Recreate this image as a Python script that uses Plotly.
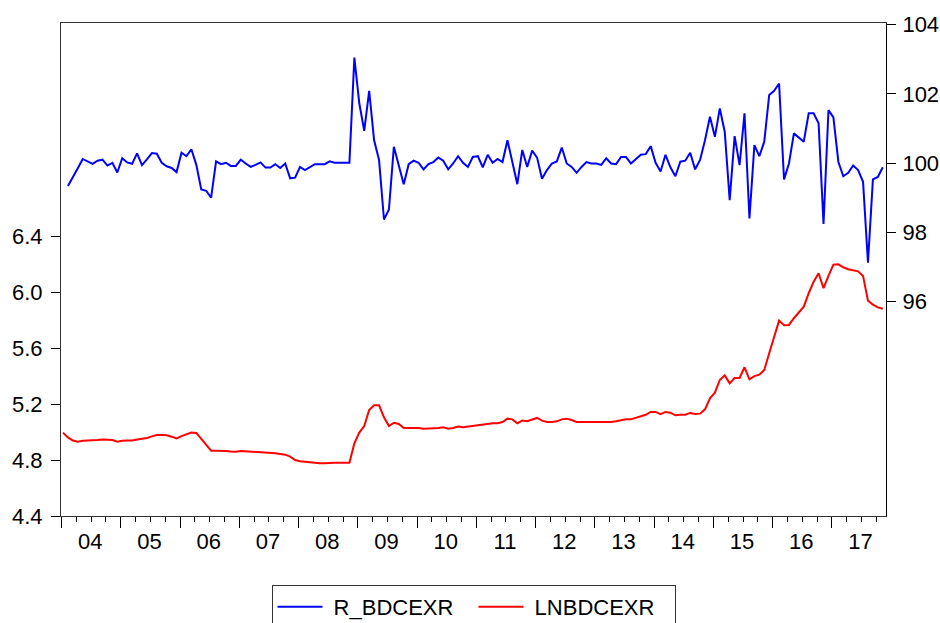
import plotly.graph_objects as go

# monthly observations 2004m1 .. 2017m11 (index 0..166)
months = list(range(167))

r_bdcexr = [None, 99.34, 99.58, 99.85, 100.12, 100.04, 99.98, 100.07, 100.10, 99.93,
            100.01, 99.73, 100.14, 100.02, 99.98, 100.28, 99.94, 100.11, 100.29, 100.27,
            100.01, 99.91, 99.86, 99.74, 100.30, 100.20, 100.40, 99.95, 99.24, 99.20,
            99.00, 100.05, 99.97, 100.01, 99.92, 99.92, 100.10, 99.99, 99.89, 99.95,
            100.02, 99.87, 99.87, 99.97, 99.86, 99.99, 99.56, 99.58, 99.89, 99.80,
            99.89, 99.97, 99.97, 99.97, 100.05, 100.01, 100.01, 100.01, 100.01, 103.05,
            101.73, 100.93, 102.09, 100.66, 100.09, 98.37, 98.66, 100.47, 99.95, 99.39,
            99.97, 100.07, 100.01, 99.82, 99.97, 100.03, 100.16, 100.07, 99.82, 99.99,
            100.20, 100.01, 99.89, 100.18, 100.20, 99.88, 100.24, 100.01, 100.12, 100.03,
            100.66, 99.99, 99.39, 100.38, 99.89, 100.36, 100.16, 99.55, 99.80, 99.99,
            100.05, 100.45, 99.99, 99.89, 99.72, 99.89, 100.03, 99.99, 99.99, 99.95,
            100.14, 99.99, 99.97, 100.18, 100.18, 99.99, 100.11, 100.24, 100.26, 100.49,
            100.01, 99.76, 100.24, 99.88, 99.62, 100.04, 100.07, 100.30, 99.82, 100.09,
            100.66, 101.34, 100.76, 101.58, 100.90, 98.93, 100.78, 99.94, 101.44, 98.40,
            100.52, 100.20, 100.62, 101.97, 102.09, 102.30, 99.53, 99.99, 100.86, 100.74,
            100.62, 101.44, 101.44, 101.15, 98.24, 101.53, 101.32, 100.04, 99.62, 99.72,
            99.93, 99.80, 99.46, 97.12, 99.53, 99.60, 99.88]

lnbdcexr = [4.997, 4.963, 4.940, 4.932, 4.939, 4.940, 4.940, 4.944, 4.948, 4.944,
            4.944, 4.932, 4.939, 4.940, 4.940, 4.948, 4.952, 4.958, 4.970, 4.980,
            4.980, 4.978, 4.968, 4.955, 4.972, 4.985, 4.998, 4.995, 4.950, 4.912,
            4.868, 4.868, 4.868, 4.866, 4.862, 4.860, 4.866, 4.864, 4.860, 4.858,
            4.858, 4.856, 4.852, 4.849, 4.844, 4.839, 4.825, 4.801, 4.792, 4.787,
            4.782, 4.777, 4.777, 4.777, 4.782, 4.782, 4.782, 4.782, 4.782, 4.920,
            4.997, 5.044, 5.159, 5.193, 5.193, 5.107, 5.044, 5.068, 5.059, 5.030,
            5.030, 5.035, 5.030, 5.025, 5.025, 5.025, 5.030, 5.035, 5.025, 5.030,
            5.040, 5.035, 5.040, 5.044, 5.049, 5.054, 5.059, 5.064, 5.064, 5.073,
            5.097, 5.092, 5.064, 5.083, 5.078, 5.092, 5.102, 5.083, 5.073, 5.073,
            5.078, 5.092, 5.097, 5.087, 5.073, 5.073, 5.073, 5.073, 5.073, 5.068,
            5.073, 5.073, 5.078, 5.087, 5.092, 5.092, 5.102, 5.111, 5.125, 5.145,
            5.145, 5.130, 5.145, 5.140, 5.121, 5.125, 5.125, 5.138, 5.130, 5.133,
            5.164, 5.243, 5.283, 5.374, 5.407, 5.350, 5.388, 5.388, 5.465, 5.379,
            5.402, 5.412, 5.445, 5.565, 5.684, 5.799, 5.766, 5.768, 5.816, 5.861,
            5.899, 5.995, 6.078, 6.138, 6.031, 6.119, 6.200, 6.202, 6.181, 6.167,
            6.162, 6.152, 6.119, 5.942, 5.913, 5.894, 5.884]

year_labels = ['04', '05', '06', '07', '08', '09', '10', '11', '12', '13', '14', '15', '16', '17']
left_ticks = [4.4, 4.8, 5.2, 5.6, 6.0, 6.4]
left_ticktext = ['4.4', '4.8', '5.2', '5.6', '6.0', '6.4']
right_ticks = [96, 98, 100, 102, 104]

shift = -0.3
year_starts = [12 * k + shift for k in range(len(year_labels))]
quarter_ticks = [12 * k + q + shift for k in range(len(year_labels)) for q in (3, 6, 9)]
year_centers = [12 * k + 5.5 for k in range(len(year_labels))]

FONT = "Liberation Sans, Arial, sans-serif"
xr = [-0.4, 166.65]

fig = go.Figure()
fig.add_trace(go.Scatter(x=months, y=r_bdcexr, name="\u00a0R_BDCEXR", mode="lines",
                         line=dict(color="#0000ff", width=2), xaxis="x2", yaxis="y2"))
fig.add_trace(go.Scatter(x=months, y=lnbdcexr, name="\u00a0LNBDCEXR", mode="lines",
                         line=dict(color="#ff0000", width=2), xaxis="x", yaxis="y"))

fig.update_layout(
    width=940, height=623,
    margin=dict(l=61, r=54, t=23, b=107),
    paper_bgcolor="white", plot_bgcolor="white",
    font=dict(family=FONT, size=22, color="black"),
    showlegend=True,
    legend=dict(orientation="h", x=0.5, xanchor="center", xref="paper",
                y=1 - 585 / 623, yanchor="top", yref="container",
                bordercolor="#333333", borderwidth=1, bgcolor="white",
                font=dict(family=FONT, size=22, color="black"),
                itemwidth=45, entrywidth=141, traceorder="normal"),
    xaxis=dict(range=xr, tickmode="array", tickvals=year_starts, automargin=False,
               ticktext=[""] * len(year_starts), ticks="outside", ticklen=11,
               tickwidth=1, tickcolor="black", showline=True, linecolor="#333333",
               linewidth=1, mirror=True, showgrid=False, zeroline=False,
               minor=dict(tickmode="array", tickvals=quarter_ticks, ticks="outside",
                          ticklen=5, tickwidth=1, tickcolor="black", showgrid=False)),
    xaxis2=dict(range=xr, overlaying="x", anchor="y", side="bottom", tickmode="array",
                tickvals=year_centers, ticktext=year_labels, ticks="", showline=False,
                showgrid=False, zeroline=False, ticklabelstandoff=10, automargin=False,
                tickfont=dict(family=FONT, size=22, color="black")),
    yaxis=dict(range=[4.4, 7.93], tickmode="array", tickvals=left_ticks,
               ticktext=left_ticktext, ticks="outside", ticklen=9, tickwidth=1,
               tickcolor="black", showline=True, linecolor="#333333", linewidth=1,
               showgrid=False, zeroline=False, ticklabelstandoff=4, automargin=False,
               tickfont=dict(family=FONT, size=22, color="black")),
    yaxis2=dict(range=[89.80, 104.05], overlaying="y", side="right", anchor="x",
                tickmode="array", tickvals=right_ticks, ticks="outside", ticklen=9,
                tickwidth=1, tickcolor="black", showline=True, linecolor="black",
                linewidth=1, showgrid=False, zeroline=False, ticklabelstandoff=2,
                automargin=False,
                tickfont=dict(family=FONT, size=22, color="black")),
)

fig.write_html("out.html", config={"displayModeBar": False},
               post_script="document.body.style.margin='0';")
